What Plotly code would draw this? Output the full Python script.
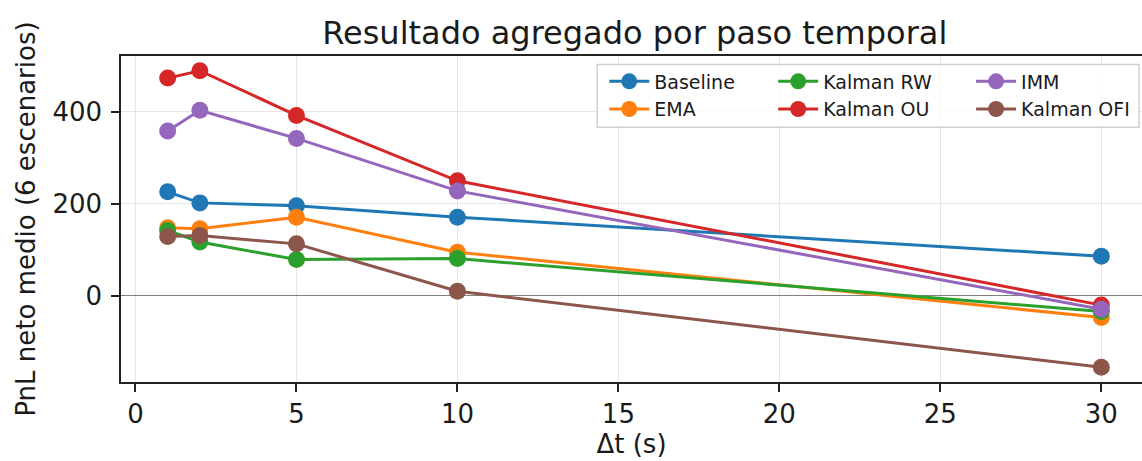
import plotly.graph_objects as go

dt = [1, 2, 5, 10, 30]
series_names = ["Baseline", "EMA", "Kalman RW", "Kalman OU", "IMM", "Kalman OFI"]
baseline = [226, 202, 196, 171, 86]
ema = [148, 146, 171, 95, -47]
kalman_rw = [142, 117, 79, 81, -34]
kalman_ou = [473, 489, 392, 250, -20]
imm = [358, 403, 342, 228, -29]
kalman_ofi = [129, 131, 113, 10, -155]
x_ticks = [0, 5, 10, 15, 20, 25, 30]
y_ticks = [0, 200, 400]

values = [baseline, ema, kalman_rw, kalman_ou, imm, kalman_ofi]
colors = ["#1f77b4", "#ff7f0e", "#2ca02c", "#d62728", "#9467bd", "#8c564b"]
legend_ids = ["legend", "legend", "legend2", "legend2", "legend3", "legend3"]

W, H = 1142, 461
ml, mr, mt, mb = 120.5, 0, 55.5, 78.5
pw, ph = W - ml - mr, H - mt - mb

def px_to_paper_x(px):
    return (px - ml) / pw

def px_to_paper_y(py):
    return (H - mb - py) / ph

fig = go.Figure()
for name, vals, col, lg in zip(series_names, values, colors, legend_ids):
    fig.add_trace(go.Scatter(
        x=dt, y=vals, name=name, mode="lines+markers",
        line=dict(color=col, width=3),
        marker=dict(color=col, size=17),
        legend=lg, legendgroup=name,
    ))

font_family = "DejaVu Sans"
leg_font = dict(family=font_family, size=19, color="#1a1a1a")
leg_common = dict(bgcolor="rgba(0,0,0,0)", borderwidth=0, font=leg_font,
                  xanchor="left", yanchor="top", itemwidth=40,
                  tracegroupgap=0, orientation="v")
leg_top = px_to_paper_y(62)

fig.update_layout(
    width=W, height=H,
    margin=dict(l=ml, r=mr, t=mt, b=mb, autoexpand=False),
    paper_bgcolor="white", plot_bgcolor="white",
    font=dict(family=font_family, size=26, color="#1a1a1a"),
    title=dict(text="Resultado agregado por paso temporal",
               font=dict(family=font_family, size=32, color="#1a1a1a"),
               x=px_to_paper_x(634.5), xref="paper", xanchor="center",
               y=1 - 33 / H, yref="container", yanchor="middle"),
    showlegend=True,
    legend=dict(x=px_to_paper_x(604), y=leg_top, **leg_common),
    legend2=dict(x=px_to_paper_x(773), y=leg_top, **leg_common),
    legend3=dict(x=px_to_paper_x(971), y=leg_top, **leg_common),
    shapes=[dict(type="rect", xref="paper", yref="paper",
                 x0=px_to_paper_x(597), x1=px_to_paper_x(1139),
                 y0=px_to_paper_y(127), y1=px_to_paper_y(64),
                 line=dict(color="#d0d0d0", width=1.5),
                 fillcolor="rgba(255,255,255,0.8)", layer="above")],
)

x_per_px = 31.9 / (1148 - 120.5)
fig.update_xaxes(
    range=[-0.45, -0.45 + pw * x_per_px],
    tickvals=x_ticks, ticks="outside", ticklen=8, tickwidth=1.5, tickcolor="#222",
    showline=True, linecolor="#222", linewidth=1.5, mirror=True,
    showgrid=True, gridcolor="#e6e6e6", gridwidth=1.3, zeroline=False,
    tickfont=dict(size=26), automargin=False,
    title=dict(text="Δt (s)", font=dict(size=26), standoff=4),
)
fig.update_yaxes(
    range=[-187, 521],
    tickvals=y_ticks, ticks="outside", ticklen=8, tickwidth=1.5, tickcolor="#222",
    showline=True, linecolor="#222", linewidth=1.5, mirror=False,
    showgrid=True, gridcolor="#e6e6e6", gridwidth=1.3,
    zeroline=True, zerolinecolor="#7f7f7f", zerolinewidth=1.2,
    tickfont=dict(size=26), automargin=False, ticklabelstandoff=4,
    title=dict(text="PnL neto medio (6 escenarios)", font=dict(size=26), standoff=9),
)

fig.write_html("out.html", config={"displayModeBar": False},
               post_script="document.body.style.margin='0px';")
